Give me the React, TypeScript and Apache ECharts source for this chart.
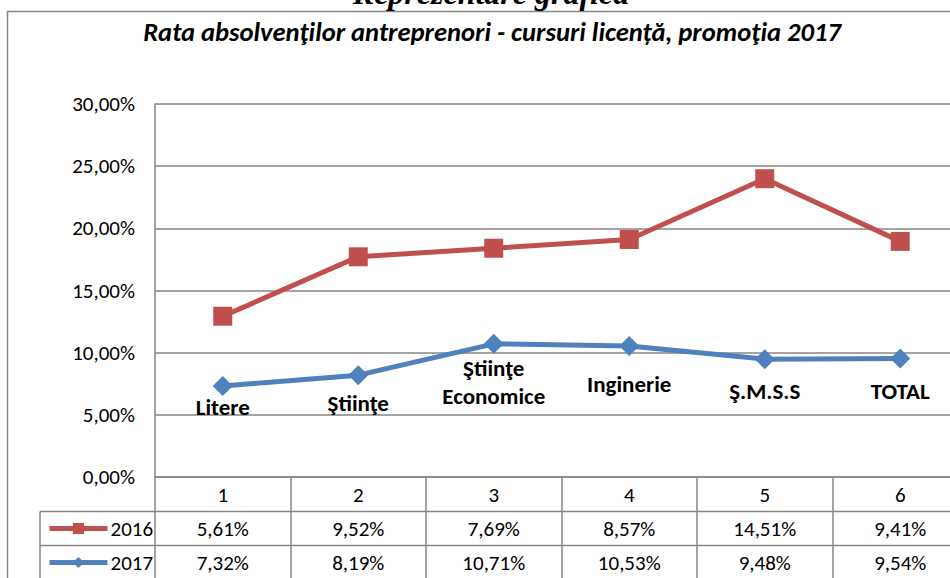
import React, { useEffect, useRef } from "react";
import * as echarts from "echarts";

const categories = ["1", "2", "3", "4", "5", "6"];
const fieldNames = ["Litere", "Ştiinţe", "Ştiinţe\nEconomice", "Inginerie", "Ş.M.S.S", "TOTAL"];
const values2016 = [5.61, 9.52, 7.69, 8.57, 14.51, 9.41];
const values2017 = [7.32, 8.19, 10.71, 10.53, 9.48, 9.54];
const seriesNames = ["2016", "2017"];
const yTicks = { min: 0, max: 30, interval: 5 };

// label vertical offsets (style only)
const labelDy = [21, 28, 38, 38, 32, 33];

const FONT = "Carlito, Lato, 'Open Sans', sans-serif";
const GRAY = "#868686";
const fmt = (v: number) => v.toFixed(2).replace(".", ",") + "%";

const legendCommon = {
  left: 42,
  itemWidth: 58,
  itemHeight: 14,
  itemGap: 6,
  lineStyle: { width: 5 },
  textStyle: { fontSize: 21, color: "#000", fontFamily: FONT, padding: [0, 0, 0, -2] },
};

export default function App() {
  const ref = useRef<HTMLDivElement>(null);
  useEffect(() => {
    const chart = echarts.init(ref.current!, null, { renderer: "svg" });
    chart.setOption({
      animation: false,
      backgroundColor: "#fff",
      textStyle: { fontFamily: FONT },
      graphic: [
        {
          type: "rect",
          shape: { x: 7.5, y: 11.5, width: 1100, height: 700 },
          style: { fill: "none", stroke: GRAY, lineWidth: 1.5 },
          silent: true,
        },
        {
          type: "text",
          x: 491,
          y: 9,
          style: {
            text: "Reprezentare grafică",
            font: "italic bold 32px 'Liberation Serif', serif",
            fill: "#000",
            align: "center",
            verticalAlign: "bottom",
          },
        },
        {
          type: "text",
          x: 492,
          y: 32,
          style: {
            text: "Rata absolvenţilor antreprenori - cursuri licență, promoţia 2017",
            font: "italic bold 26.6px " + FONT,
            fill: "#000",
            align: "center",
            verticalAlign: "middle",
          },
        },
        {
          type: "line",
          shape: { x1: 40, y1: 511.5, x2: 1000, y2: 511.5 },
          style: { stroke: GRAY, lineWidth: 1.5 },
        },
        {
          type: "line",
          shape: { x1: 40, y1: 545.5, x2: 1000, y2: 545.5 },
          style: { stroke: GRAY, lineWidth: 1.5 },
        },
        {
          type: "line",
          shape: { x1: 40, y1: 511.5, x2: 40, y2: 600 },
          style: { stroke: GRAY, lineWidth: 1.5 },
        },
      ],
      legend: [
        { ...legendCommon, data: [seriesNames[0]], top: 513 },
        { ...legendCommon, data: [seriesNames[1]], top: 547 },
      ],
      grid: { left: 155, top: 104, width: 813, height: 373, containLabel: false },
      xAxis: {
        type: "category",
        data: categories,
        boundaryGap: true,
        axisLine: { show: true, lineStyle: { color: GRAY, width: 1.5 } },
        axisTick: { show: true, length: 110, lineStyle: { color: GRAY, width: 1.5 } },
        axisLabel: {
          interval: 0,
          margin: 1,
          color: "#000",
          formatter: (v: string, i: number) =>
            `{h|${v}}\n{v|${fmt(values2016[i])}}\n{v|${fmt(values2017[i])}}`,
          rich: {
            h: { fontSize: 21, lineHeight: 34, fontFamily: FONT, color: "#000" },
            v: { fontSize: 21, lineHeight: 34, fontFamily: FONT, color: "#000" },
          },
        },
      },
      yAxis: {
        type: "value",
        min: yTicks.min,
        max: yTicks.max,
        interval: yTicks.interval,
        axisLine: { show: true, lineStyle: { color: GRAY, width: 1.5 } },
        axisTick: { show: false },
        splitLine: { lineStyle: { color: GRAY, width: 1.5 } },
        axisLabel: {
          margin: 20,
          fontSize: 21,
          color: "#000",
          fontFamily: FONT,
          formatter: (v: number) => fmt(v),
        },
      },
      series: [
        {
          name: "2017",
          type: "line",
          stack: "total",
          data: values2017.map((v, i) => ({
            value: v,
            label: { offset: [0, labelDy[i]] },
          })),
          color: "#4F81BD",
          lineStyle: { width: 5, color: "#4F81BD" },
          symbol: "diamond",
          symbolSize: 20,
          itemStyle: { color: "#4F81BD" },
          label: {
            show: true,
            position: "inside",
            formatter: (p: any) => fieldNames[p.dataIndex],
            fontSize: 23,
            fontWeight: "bold",
            color: "#000",
            lineHeight: 28,
            fontFamily: FONT,
          },
          z: 3,
        },
        {
          name: "2016",
          type: "line",
          stack: "total",
          data: values2016,
          color: "#C0504D",
          lineStyle: { width: 5, color: "#C0504D" },
          symbol: "rect",
          symbolSize: 19,
          itemStyle: { color: "#C0504D" },
          z: 2,
        },
      ],
    });
    return () => chart.dispose();
  }, []);
  return (
    <div
      style={{
        position: "fixed",
        left: 0,
        top: 0,
        width: 950,
        height: 578,
        overflow: "hidden",
        background: "#fff",
      }}
    >
      <div ref={ref} style={{ width: 1000, height: 578 }} />
    </div>
  );
}
